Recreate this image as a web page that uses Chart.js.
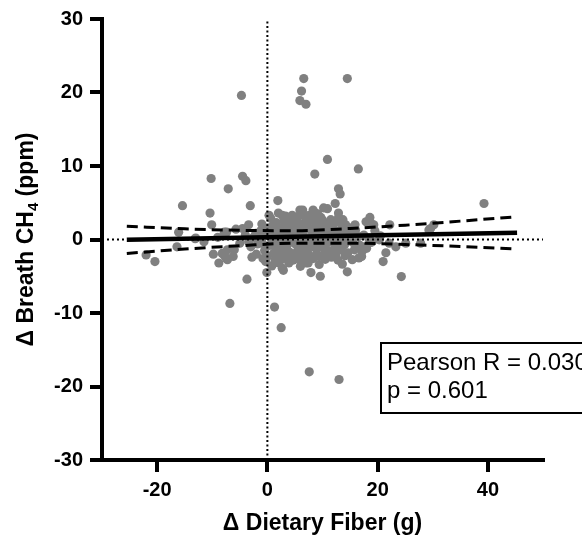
<!DOCTYPE html>
<html>
<head>
<meta charset="utf-8">
<script src="https://cdn.jsdelivr.net/npm/chart.js@4"></script>
<style>
  html, body { margin:0; padding:0; background:#fff; }
  #wrap { width:582px; height:537px; }
</style>
</head>
<body>
<div id="wrap"><canvas id="fiber-ch4"></canvas></div>
<script>
// Δ dietary fiber (g) vs Δ breath CH4 (ppm), one entry per subject
const fiberDelta = [
  -4.7, 6.6, 6.2, 5.9, 7.0, 14.5, 10.9, 8.6, 16.5, -10.2, -4.5, -3.9, -7.1, 12.9, 13.2, -15.4, -3.1, 1.9, 12.3, 39.3,
  -10.4, 12.9, 10.2, 5.9, 6.4, 8.3, 3.3, 18.6, -10.1, -3.4, 19.3, 22.2, 15.9, 15.3, 30.2, 29.6, -5.7, -7.8, -16.1, 2.1,
  -22.0, -20.4, -16.4, -13.1, -9.8, -8.8, -7.85, -7.25, -6.2, -6.0, -6.8, -3.7, -0.1, 1.3, 2.5, 7.6, 13.0, 24.3, 21.0, 14.5,
  13.6, 9.6, 7.9, 7.4, 6.0, 2.7, 0.8, 2.9, 16.6, 15.4, 17.2, 12.4, 11.5, 13.3, 23.3, 25.1, 27.8, -3.0, -3.4, -0.9,
  -7.4, -4.5, -2.1, -0.7, 1.2, 3.15, 3.9, 4.5, 7.6, 9.1, 10.0, 10.9, 4.5, 6.35, 7.25, 8.8, 10.0, 1.7, 2.7, 3.9,
  5.15, 6.35, 7.6, 9.4, 10.6, 1.5, 3.3, 5.15, 7.0, 8.8, 10.6, 2.1, 3.9, 7.0, 9.4, 2.7, 7.9, 8.5, 11.2, 12.4,
  13.6, 14.8, 16.6, 18.4, 20.3, 22.1,
  -2.5, -1.8, -1.2, -0.5, 0.2, 0.4, 0.9, 1.1, 1.6, 1.9, 2.3, 2.6, 2.9, 3.2, 3.5, 3.8, 4.1, 4.4, 4.7, 5.0,
  5.3, 5.6, 5.9, 6.2, 6.5, 6.8, 7.1, 7.4, 7.7, 8.0, 8.3, 8.6, 8.9, 9.2, 9.5, 9.8, 10.1, 10.4, 10.7, 11.0,
  11.3, 11.6, 11.9, 12.2, 12.5, 12.8, 13.1, 13.4, 13.7, 14.0, 14.3, 14.6, 15.0, 15.5, 16.0, 0.0, 0.6, 1.4, 2.0, 3.0,
  4.0, 4.9, 5.5, 6.0, 7.0, 7.5, 8.2, 9.0, 9.7, 10.5, 11.5, 12.0, 12.8, 13.5, 14.2, 3.4, 6.6, 8.8, 2.4, 4.6,
  7.9, 10.9, 5.2, 1.0, -1.0, -2.0, -0.3, 0.3, 17.5, 18.0, 19.5, 20.5, 21.5, 16.8, 18.8,
  18.8, 17.2, 17.1, 19.0, 29.3, -11.5, -8.2, -7.25, -7.5, -13.0, -9.0, -5.0, -4.0, -2.8, -1.5,
  0.7, 1.3, 2.2, 2.8, 3.6, 4.3, 5.1, 5.8, 6.4, 7.3, 8.1, 8.7, 9.3, 10.3, 11.1, 11.8, 12.6, 13.3, 14.1, 1.8,
  3.1, 4.8, 6.9, 8.4, 9.9, 11.4, 12.9, 2.5, 5.4, 7.7, 10.0, 13.8, 0.1, -0.8, 4.0, 6.1, 9.1, 15.8, 17.9, 3.7
];
const ch4Delta = [
  19.6, 21.9, 20.2, 18.9, 18.4, 21.9, 10.9, 8.9, 9.6, 8.3, 8.6, 8.0, 6.9, 6.9, 6.2, 4.6, 4.6, 5.3, 4.9, 4.9,
  3.6, 3.6, 4.3, 4.0, 4.0, 4.0, 3.2, 3.0, 2.0, 2.0, 2.0, 2.0, 2.0, 1.6, 2.0, 1.5, 1.4, 1.0, 1.0, 1.6,
  -2.1, -3.0, -1.0, 0.1, -2.0, -3.2, -2.1, -2.75, -2.3, -1.4, -8.7, -5.4, -4.5, -9.2, -12.0, -18.0, -19.05, -5.05, -3.0, -4.4,
  -3.35, -5.0, -4.5, -3.2, -3.65, -3.9, -3.6, -4.2, -2.5, -2.75, -1.6, -2.1, -1.6, -1.4, -1.0, -0.5, -0.5, -1.0, -0.3, -0.5,
  1.0, 1.5, 0.85, 0.4, 1.07, 0.85, 0.15, 3.3, 3.3, 3.5, 2.65, 4.2, 2.0, 2.0, 2.4, 2.0, 1.3, -2.1, -1.6, -2.3,
  -1.85, -2.3, -2.1, -2.3, -2.1, -1.0, -0.7, -0.65, -1.0, -0.7, -0.7, -3.2, -3.2, -3.2, -3.4, 3.3, 2.9, 3.3, 1.7, 1.07,
  1.74, 0.15, 0.4, 0.15, -0.05, -0.5,
  0.3, -0.6, 1.2, -1.5, 0.6, -0.8, 0.2, -1.9, 2.3, 0.4, -0.3, 1.1, -2.6, 0.6, -1.2, 1.8, -0.4, 0.9, -2.8, 0.3,
  2.6, -1.3, 1.4, -0.2, 0.8, -1.7, 1.9, 0.1, -0.6, 1.2, -2.6, 0.5, -1.3, 2.4, 0.0, -0.9, 0.7, -1.5, 1.6, -0.3,
  0.4, -2.4, 2.2, -0.8, 0.2, -1.1, 0.9, -0.2, 2.7, -0.7, 1.1, -1.8, 0.6, -0.4, 1.3, -2.3, 2.9, -2.8, 3.6, 2.5,
  -1.7, 1.9, 3.1, -2.9, 2.9, -2.3, 2.6, -2.0, 3.0, -2.7, 2.7, 1.5, -2.8, -0.9, 2.0, -2.0, -0.9, 1.0, 0.0, -0.1,
  -0.2, -0.1, -2.4, 1.9, 2.1, -2.0, -3.0, 3.3, 0.6, -1.2, 1.2, 0.5, -1.8, -0.8, -0.4,
  2.2, -1.0, -2.3, -0.3, 1.3, -0.3, -1.9, -1.4, -2.5, 0.2, 0.3, -0.5, 0.6, -2.4, -0.2,
  1.5, -0.1, 1.0, -1.1, 0.2, 2.8, -0.5, 2.2, 1.1, -1.3, 0.3, 3.6, -0.4, 2.1, 1.3, -1.9, 2.4, 0.5, -2.2, -0.9,
  1.7, 1.2, -0.6, -1.0, 1.9, 0.9, 3.0, -1.6, 0.9, 1.5, 0.1, 0.2, 1.6, -2.6, 2.6, 3.4, 0.4, -1.4, 2.4, -2.6
];

// linear fit and its 95% confidence band
const fitX = [-25.5, 45.3];
const fitY = [-0.05, 0.93];
const bandX = [-25.5, -15, -5, 5, 15, 25, 35, 45.3];
const bandUpper = [1.80, 1.45, 1.25, 1.20, 1.50, 1.95, 2.50, 3.10];
const bandLower = [-1.90, -1.30, -0.85, -0.50, -0.50, -0.68, -0.95, -1.30];

const xTicks = [-20, 0, 20, 40];
const statLines = ['Pearson R = 0.030', 'p = 0.601'];

const pts = (xs, ys) => xs.map((x, i) => ({ x, y: ys[i] }));

const FONT = 'Liberation Sans, Arial, Helvetica, sans-serif';

const labelsPlugin = {
  id: 'labels',
  afterDraw(chart) {
    const ctx = chart.ctx;
    const a = chart.chartArea;
    ctx.save();
    ctx.fillStyle = '#000';

    // x title
    ctx.font = `bold 23px ${FONT}`;
    ctx.textAlign = 'center';
    ctx.textBaseline = 'alphabetic';
    ctx.fillText('Δ Dietary Fiber (g)', (a.left + a.right) / 2, 530);

    // y title with subscript
    const main = `bold 23px ${FONT}`, sub = `bold 15px ${FONT}`;
    const parts = [['Δ Breath CH', main, 0], ['4', sub, 5], [' (ppm)', main, 0]];
    let total = 0;
    parts.forEach(p => { ctx.font = p[1]; total += ctx.measureText(p[0]).width; });
    ctx.translate(33, (a.top + a.bottom) / 2);
    ctx.rotate(-Math.PI / 2);
    ctx.textAlign = 'left';
    let cx = -total / 2;
    parts.forEach(p => {
      ctx.font = p[1];
      ctx.fillText(p[0], cx, p[2]);
      cx += ctx.measureText(p[0]).width;
    });
    ctx.restore();

    // stats box, runs off the right edge
    ctx.save();
    ctx.strokeStyle = '#000';
    ctx.lineWidth = 2;
    ctx.strokeRect(381, 343, 240, 70);
    ctx.fillStyle = '#000';
    ctx.font = `24px ${FONT}`;
    ctx.textAlign = 'left';
    ctx.fillText(statLines[0], 387, 370);
    ctx.fillText(statLines[1], 387, 398);
    ctx.restore();
  }
};

new Chart(document.getElementById('fiber-ch4'), {
  type: 'scatter',
  data: {
    datasets: [
      { data: pts([0, 0], [-30, 30]), showLine: true, borderColor: '#000', borderWidth: 2, borderDash: [2, 2.5], pointRadius: 0, order: 2 },
      { data: pts([-30, 50], [0, 0]), showLine: true, borderColor: '#000', borderWidth: 2, borderDash: [2, 3], pointRadius: 0, order: 2 },
      { data: pts(fiberDelta, ch4Delta), backgroundColor: '#808080', borderWidth: 0, pointRadius: 4.6, pointHoverRadius: 4.6, order: 5 },
      { data: pts(bandX, bandUpper), showLine: true, borderColor: '#000', borderWidth: 3, borderDash: [11, 6], pointRadius: 0, cubicInterpolationMode: 'monotone', order: 1 },
      { data: pts(bandX, bandLower), showLine: true, borderColor: '#000', borderWidth: 3, borderDash: [11, 6], pointRadius: 0, cubicInterpolationMode: 'monotone', order: 1 },
      { data: pts(fitX, fitY), showLine: true, borderColor: '#000', borderWidth: 4.5, pointRadius: 0, order: 0 },
    ]
  },
  options: {
    responsive: true, maintainAspectRatio: false, animation: false,
    layout: { padding: { top: 16, right: 39, left: 0, bottom: 0 } },
    plugins: { legend: { display: false }, tooltip: { enabled: false } },
    scales: {
      x: {
        type: 'linear', min: -30, max: 50,
        afterBuildTicks: ax => { ax.ticks = xTicks.map(v => ({ value: v })); },
        afterFit: ax => { ax.height = 77; },
        grid: { drawOnChartArea: false, drawTicks: true, tickLength: 12, lineWidth: 4, color: '#000' },
        border: { width: 4, color: '#000' },
        ticks: { color: '#000', padding: 6, font: { family: FONT, size: 20, weight: 'bold' }, maxRotation: 0 }
      },
      y: {
        type: 'linear', min: -30, max: 30,
        afterFit: ax => { ax.width = 102; },
        grid: { drawOnChartArea: false, drawTicks: true, tickLength: 12, lineWidth: 4, color: '#000' },
        border: { width: 4, color: '#000' },
        ticks: { stepSize: 10, color: '#000', padding: 7, font: { family: FONT, size: 20, weight: 'bold' } }
      }
    }
  },
  plugins: [labelsPlugin]
});
</script>
</body>
</html>
